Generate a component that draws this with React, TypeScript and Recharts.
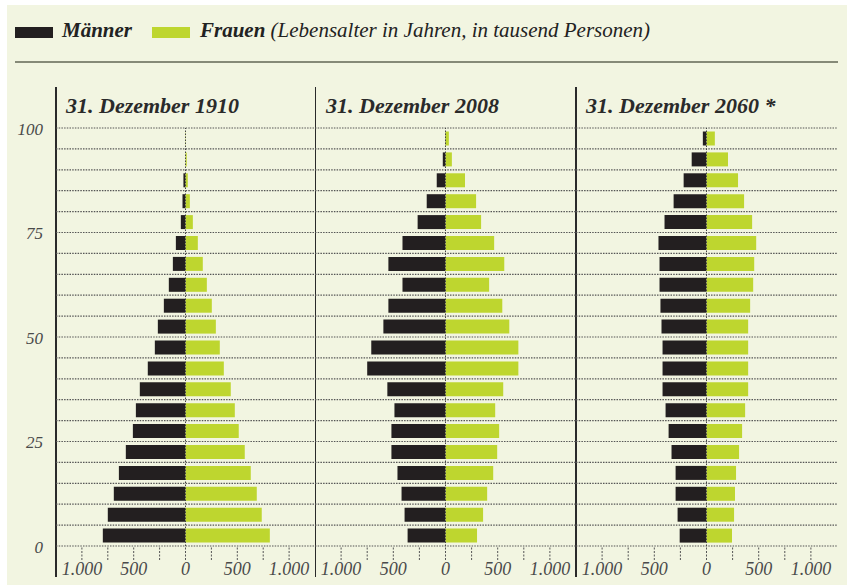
import React from 'react'
import { BarChart, Bar, XAxis, YAxis, CartesianGrid, ReferenceLine } from 'recharts'

// age groups, top row first
const ageGroups = [
  '95-100', '90-95', '85-90', '80-85', '75-80', '70-75', '65-70', '60-65', '55-60', '50-55',
  '45-50', '40-45', '35-40', '30-35', '25-30', '20-25', '15-20', '10-15', '5-10', '0-5',
]

// in tausend Personen
const men1910 = [0, 0, 20, 29, 45, 93, 122, 161, 209, 267, 296, 364, 441, 479, 508, 576, 643, 692, 750, 798]
const women1910 = [3, 12, 22, 42, 71, 119, 167, 206, 254, 293, 331, 370, 437, 476, 514, 572, 630, 688, 736, 814]

const men2008 = [3, 26, 84, 180, 267, 412, 547, 412, 547, 595, 711, 750, 557, 489, 518, 518, 460, 421, 392, 363]
const women2008 = [32, 61, 187, 293, 341, 466, 563, 418, 544, 611, 698, 698, 553, 476, 514, 495, 457, 399, 360, 302]

const men2060 = [35, 142, 219, 315, 402, 460, 450, 450, 441, 431, 421, 421, 421, 392, 363, 335, 296, 296, 277, 257]
const women2060 = [80, 206, 302, 360, 437, 476, 457, 447, 418, 399, 399, 399, 399, 370, 341, 312, 283, 273, 264, 244]

const titles = ['31. Dezember 1910', '31. Dezember 2008', '31. Dezember 2060 *']
const xTicks = [-1000, -750, -500, -250, 0, 250, 500, 750, 1000]

const BLACK = '#231f20'
const GREEN = '#bed62f'
const BG = '#f2f5e1'
const FONT = "'Liberation Serif', 'Times New Roman', serif"

const CHART_H = 466
const TOP = 8
const X_AXIS_H = 40
const PLOT_H = CHART_H - TOP - X_AXIS_H
const BAND = PLOT_H / ageGroups.length

const buildRows = (men: number[], women: number[]) =>
  ageGroups.map((age, i) => ({ age, men: -men[i], women: women[i] }))

const fmtX = (v: number) => {
  if (v % 500 !== 0) return ''
  const a = Math.abs(v)
  return a >= 1000 ? `${Math.floor(a / 1000)}.${String(a % 1000).padStart(3, '0')}` : String(a)
}

// age labels sit on the band borders (0, 25, 50, 75, 100)
const AgeTick = (props: any) => {
  const { x, y, payload } = props
  const [lo, hi] = String(payload.value).split('-').map(Number)
  const labels: { v: number; y: number }[] = []
  if (lo % 25 === 0) labels.push({ v: lo, y: y + BAND / 2 })
  if (hi === 100) labels.push({ v: hi, y: y - BAND / 2 })
  return (
    <g>
      {labels.map((l) => (
        <text key={l.v} x={x} y={l.y} dy="0.4em" textAnchor="end" fill="#4a4a4a" fontSize={17} fontStyle="italic" fontFamily={FONT}>
          {l.v}
        </text>
      ))}
    </g>
  )
}

interface PyramidProps {
  rows: { age: string; men: number; women: number }[]
  showAges: boolean
  width: number
}

const Pyramid: React.FC<PyramidProps> = ({ rows, showAges, width }) => (
  <BarChart
    width={width}
    height={CHART_H}
    data={rows}
    layout="vertical"
    stackOffset="sign"
    barCategoryGap={3.5}
    margin={{ top: TOP, right: 0, bottom: 0, left: 0 }}
  >
    <CartesianGrid
      vertical={false}
      stroke="#555"
      strokeWidth={1.2}
      strokeDasharray="1.5 1.2"
      horizontalCoordinatesGenerator={({ offset }: any) =>
        Array.from({ length: ageGroups.length + 1 }, (_, k) => offset.top + (k * offset.height) / ageGroups.length)
      }
    />
    <XAxis
      type="number"
      domain={[-1250, 1250]}
      ticks={xTicks}
      tickFormatter={fmtX}
      axisLine={false}
      tickSize={14}
      tickMargin={2}
      height={X_AXIS_H}
      tickLine={{ stroke: '#555', strokeDasharray: '2 1.5' }}
      tick={{ fill: '#4a4a4a', fontSize: 18, fontStyle: 'italic', fontFamily: FONT }}
      interval={0}
    />
    <YAxis
      type="category"
      dataKey="age"
      hide={!showAges}
      width={showAges ? 46 : 0}
      axisLine={false}
      tickLine={false}
      tickSize={0}
      tickMargin={13}
      interval={0}
      tick={<AgeTick />}
    />
    <Bar dataKey="men" stackId="a" fill={BLACK} isAnimationActive={false} />
    <Bar dataKey="women" stackId="a" fill={GREEN} isAnimationActive={false} />
    <ReferenceLine x={0} stroke="#444" strokeDasharray="1.5 1.5" />
  </BarChart>
)

const App: React.FC = () => {
  const data = [buildRows(men1910, women1910), buildRows(men2008, women2008), buildRows(men2060, women2060)]
  const chartLefts = [10, 315, 576]
  const chartWidths = [305, 261, 261]
  const titleLefts = [66, 326, 586]
  const panelLines = [55, 314.5, 575]

  return (
    <div style={{ position: 'absolute', left: 0, top: 0, width: 847, height: 587, background: '#fff', fontFamily: FONT }}>
      <div style={{ position: 'absolute', left: 7, top: 5, width: 840, height: 580, background: BG }} />

      {/* legend */}
      <div style={{ position: 'absolute', left: 15, top: 27, width: 38, height: 11, background: BLACK }} />
      <div style={{ position: 'absolute', left: 152, top: 27, width: 38, height: 11, background: GREEN }} />
      <div style={{ position: 'absolute', left: 62, top: 18, fontSize: 21, fontStyle: 'italic', fontWeight: 'bold', color: '#222', whiteSpace: 'nowrap' }}>
        Männer
      </div>
      <div style={{ position: 'absolute', left: 200, top: 18, fontSize: 21, fontStyle: 'italic', color: '#222', whiteSpace: 'nowrap' }}>
        <b>Frauen</b> (Lebensalter in Jahren, in tausend Personen)
      </div>
      <div style={{ position: 'absolute', left: 15, top: 61, width: 823, height: 2, background: '#868a78' }} />

      {/* panel separators */}
      {panelLines.map((x) => (
        <div key={x} style={{ position: 'absolute', left: x, top: 87, width: 1.5, height: 490, background: '#2a2a2a' }} />
      ))}

      {titles.map((t, i) => (
        <div
          key={t}
          style={{ position: 'absolute', left: titleLefts[i], top: 93, fontSize: 22, fontStyle: 'italic', fontWeight: 'bold', color: '#2a2a2a', whiteSpace: 'nowrap' }}
        >
          {t}
        </div>
      ))}

      {data.map((rows, i) => (
        <div key={i} style={{ position: 'absolute', left: chartLefts[i], top: 120 }}>
          <Pyramid rows={rows} showAges={i === 0} width={chartWidths[i]} />
        </div>
      ))}
    </div>
  )
}

export default App
